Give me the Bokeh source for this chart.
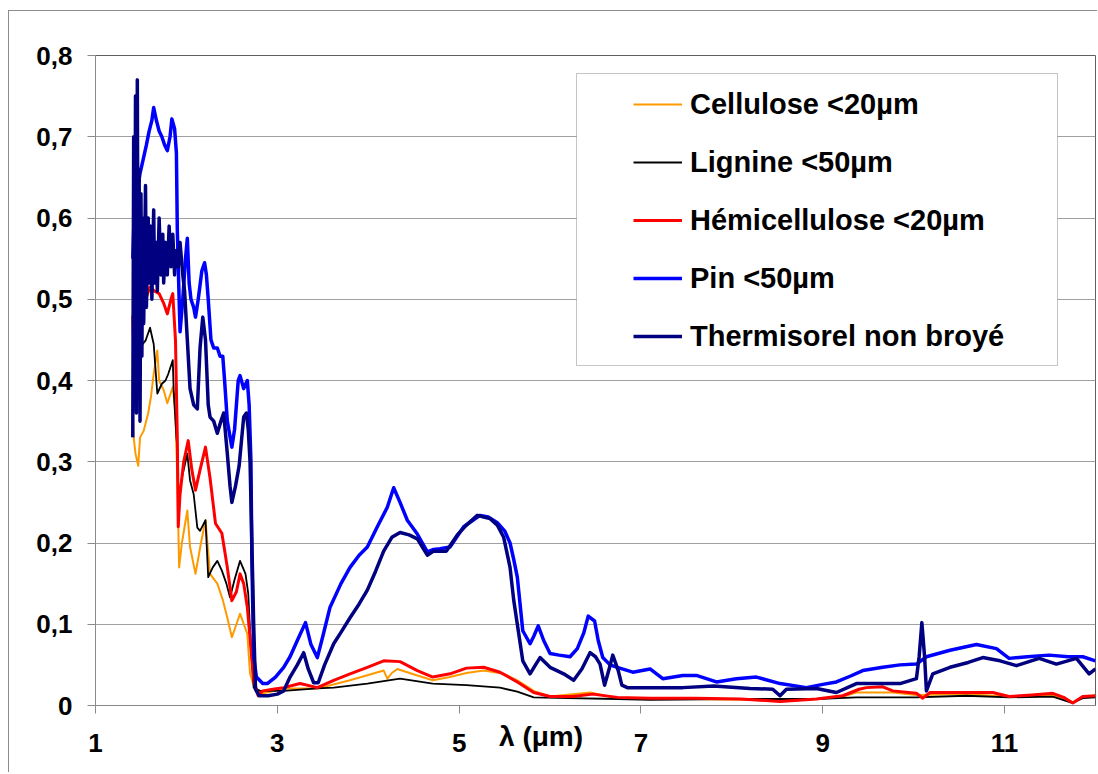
from bokeh.plotting import figure
from bokeh.models import (Legend, LegendItem, BoxAnnotation, FixedTicker,
                          Range1d, CustomJSTickFormatter)
from bokeh.embed import file_html
from bokeh.resources import INLINE

# ---------------- data ----------------
series_names = ["Cellulose <20µm", "Lignine <50µm", "Hémicellulose <20µm",
                "Pin <50µm", "Thermisorel non broyé"]

x_cellulose = [1.41, 1.42, 1.44, 1.47, 1.49, 1.53, 1.58, 1.61, 1.64, 1.68, 1.70, 1.75, 1.79, 1.85,
               1.88, 1.90, 1.92, 1.95, 2.01, 2.04, 2.10, 2.16, 2.21, 2.26, 2.34, 2.40, 2.45, 2.50,
               2.55, 2.59, 2.67, 2.70, 2.76, 2.85, 3.07, 3.44, 3.80, 4.17, 4.21, 4.26, 4.32, 4.54,
               4.71, 4.90, 5.08, 5.27, 5.49, 5.64, 5.82, 6.00, 6.44, 6.74, 7.10, 7.60, 8.10, 8.53,
               8.93, 9.22, 9.37, 9.77, 10.03, 10.58, 11.05, 11.53, 11.75, 11.86, 12.0]
y_cellulose = [0.36, 0.33, 0.31, 0.295, 0.33, 0.338, 0.36, 0.38, 0.408, 0.437, 0.40, 0.388, 0.372,
               0.392, 0.36, 0.277, 0.17, 0.20, 0.24, 0.195, 0.162, 0.20, 0.228, 0.162, 0.15, 0.13,
               0.108, 0.084, 0.10, 0.113, 0.088, 0.039, 0.018, 0.015, 0.021, 0.021, 0.031, 0.043,
               0.033, 0.04, 0.045, 0.037, 0.031, 0.035, 0.04, 0.043, 0.039, 0.031, 0.018, 0.011,
               0.016, 0.009, 0.008, 0.008, 0.007, 0.006, 0.008, 0.011, 0.016, 0.016, 0.013, 0.014,
               0.011, 0.013, 0.004, 0.011, 0.012]

x_lignine = [1.41, 1.43, 1.45, 1.48, 1.49, 1.52, 1.55, 1.60, 1.64, 1.68, 1.73, 1.77, 1.80, 1.85,
             1.86, 1.89, 1.90, 1.91, 1.95, 2.01, 2.04, 2.08, 2.12, 2.15, 2.21, 2.24, 2.29, 2.34,
             2.39, 2.44, 2.48, 2.53, 2.59, 2.65, 2.68, 2.71, 2.74, 2.81, 3.07, 3.44, 3.62, 3.99,
             4.35, 4.71, 5.08, 5.45, 5.64, 5.82, 6.20, 6.74, 7.10, 8.00, 8.93, 9.37, 10.03, 10.58,
             11.05, 11.53, 11.75, 11.86, 12.0]
y_lignine = [0.40, 0.42, 0.41, 0.38, 0.437, 0.445, 0.449, 0.465, 0.445, 0.384, 0.396, 0.40, 0.408,
             0.425, 0.388, 0.33, 0.318, 0.252, 0.28, 0.31, 0.277, 0.26, 0.219, 0.215, 0.228, 0.158,
             0.17, 0.178, 0.166, 0.15, 0.133, 0.155, 0.178, 0.162, 0.138, 0.07, 0.022, 0.018,
             0.018, 0.021, 0.022, 0.027, 0.033, 0.027, 0.025, 0.022, 0.017, 0.01, 0.009, 0.008,
             0.007, 0.008, 0.008, 0.01, 0.01, 0.012, 0.01, 0.011, 0.003, 0.009, 0.01]

x_hemi = [1.41, 1.42, 1.44, 1.47, 1.50, 1.55, 1.60, 1.65, 1.70, 1.75, 1.79, 1.83, 1.85, 1.88, 1.90,
          1.91, 1.93, 1.97, 2.02, 2.06, 2.10, 2.15, 2.21, 2.26, 2.32, 2.39, 2.45, 2.50, 2.55, 2.59,
          2.63, 2.67, 2.71, 2.74, 2.79, 2.84, 2.95, 3.07, 3.25, 3.44, 3.62, 3.80, 3.99, 4.17, 4.35,
          4.54, 4.71, 4.90, 5.08, 5.27, 5.45, 5.64, 5.82, 6.00, 6.25, 6.47, 6.74, 7.10, 7.60, 8.10,
          8.53, 8.93, 9.22, 9.40, 9.48, 9.66, 9.77, 10.03, 10.10, 10.18, 10.58, 10.87, 11.05,
          11.30, 11.53, 11.65, 11.75, 11.86, 12.0]
y_hemi = [0.48, 0.44, 0.46, 0.47, 0.49, 0.50, 0.515, 0.51, 0.507, 0.495, 0.482, 0.50, 0.507, 0.449,
          0.33, 0.22, 0.26, 0.30, 0.326, 0.29, 0.265, 0.29, 0.318, 0.28, 0.224, 0.212, 0.17, 0.129,
          0.14, 0.162, 0.15, 0.121, 0.07, 0.031, 0.012, 0.018, 0.02, 0.022, 0.027, 0.022, 0.031,
          0.039, 0.047, 0.055, 0.054, 0.043, 0.035, 0.039, 0.046, 0.047, 0.041, 0.029, 0.016,
          0.011, 0.011, 0.014, 0.01, 0.009, 0.009, 0.008, 0.005, 0.008, 0.012, 0.02, 0.022, 0.023,
          0.018, 0.015, 0.009, 0.016, 0.016, 0.016, 0.011, 0.013, 0.015, 0.01, 0.003, 0.011, 0.012]

x_pin = [1.41, 1.43, 1.45, 1.47, 1.49, 1.53, 1.56, 1.59, 1.62, 1.64, 1.67, 1.70, 1.73, 1.76, 1.79,
         1.82, 1.84, 1.87, 1.89, 1.90, 1.92, 1.93, 1.96, 1.99, 2.01, 2.03, 2.05, 2.08, 2.10, 2.13,
         2.17, 2.20, 2.22, 2.24, 2.27, 2.30, 2.34, 2.37, 2.40, 2.42, 2.45, 2.50, 2.53, 2.57, 2.59,
         2.63, 2.67, 2.69, 2.71, 2.72, 2.74, 2.77, 2.84, 2.89, 2.98, 3.07, 3.14, 3.22, 3.31, 3.37,
         3.44, 3.50, 3.58, 3.70, 3.80, 3.90, 3.99, 4.10, 4.21, 4.28, 4.35, 4.43, 4.54, 4.65, 4.72,
         4.79, 4.90, 5.05, 5.23, 5.32, 5.42, 5.50, 5.56, 5.60, 5.64, 5.70, 5.78, 5.82, 5.87, 5.93,
         6.00, 6.10, 6.22, 6.30, 6.37, 6.42, 6.49, 6.53, 6.58, 6.66, 6.74, 6.91, 7.10, 7.24, 7.46,
         7.61, 7.83, 8.05, 8.27, 8.53, 8.82, 9.00, 9.15, 9.30, 9.44, 9.66, 9.85, 10.03, 10.14,
         10.40, 10.69, 10.91, 11.05, 11.25, 11.49, 11.70, 11.86, 12.0]
y_pin = [0.55, 0.62, 0.58, 0.64, 0.655, 0.675, 0.69, 0.707, 0.72, 0.736, 0.72, 0.707, 0.70, 0.69,
         0.683, 0.70, 0.722, 0.71, 0.68, 0.585, 0.50, 0.46, 0.50, 0.55, 0.575, 0.52, 0.50, 0.49,
         0.478, 0.50, 0.535, 0.545, 0.53, 0.50, 0.45, 0.44, 0.44, 0.43, 0.43, 0.40, 0.35, 0.318,
         0.34, 0.40, 0.406, 0.39, 0.40, 0.37, 0.30, 0.18, 0.06, 0.035, 0.027, 0.027, 0.035, 0.047,
         0.06, 0.08, 0.102, 0.075, 0.059, 0.085, 0.121, 0.15, 0.17, 0.185, 0.195, 0.22, 0.244,
         0.268, 0.25, 0.228, 0.211, 0.189, 0.192, 0.193, 0.195, 0.22, 0.234, 0.232, 0.225, 0.215,
         0.20, 0.18, 0.158, 0.092, 0.076, 0.085, 0.098, 0.08, 0.064, 0.062, 0.06, 0.07, 0.089,
         0.11, 0.104, 0.08, 0.059, 0.05, 0.047, 0.041, 0.045, 0.033, 0.037, 0.037, 0.029, 0.033,
         0.035, 0.027, 0.022, 0.026, 0.029, 0.036, 0.043, 0.047, 0.05, 0.051, 0.06, 0.068, 0.075,
         0.07, 0.058, 0.06, 0.062, 0.06, 0.06, 0.055]

x_thermi = [1.41, 1.42, 1.43, 1.44, 1.45, 1.46, 1.47, 1.48, 1.49, 1.50, 1.51, 1.52, 1.53, 1.55,
            1.56, 1.58, 1.59, 1.61, 1.62, 1.64, 1.65, 1.67, 1.68, 1.70, 1.72, 1.74, 1.75, 1.77,
            1.79, 1.81, 1.83, 1.85, 1.87, 1.89, 1.91, 1.93, 1.96, 1.98, 2.01, 2.04, 2.08, 2.12,
            2.15, 2.18, 2.21, 2.24, 2.26, 2.30, 2.34, 2.38, 2.41, 2.45, 2.48, 2.50, 2.54, 2.58,
            2.63, 2.66, 2.68, 2.70, 2.72, 2.74, 2.76, 2.80, 2.90, 3.00, 3.07, 3.14, 3.22, 3.29,
            3.34, 3.40, 3.45, 3.52, 3.62, 3.70, 3.80, 3.90, 3.99, 4.08, 4.17, 4.26, 4.35, 4.45,
            4.54, 4.65, 4.72, 4.79, 4.86, 4.92, 4.98, 5.08, 5.20, 5.27, 5.34, 5.42, 5.49, 5.56,
            5.60, 5.64, 5.70, 5.78, 5.84, 5.89, 6.00, 6.15, 6.26, 6.35, 6.44, 6.50, 6.55, 6.60,
            6.65, 6.69, 6.75, 6.79, 6.85, 7.10, 7.46, 7.80, 8.20, 8.45, 8.53, 8.60, 8.93, 9.15,
            9.37, 9.66, 9.85, 10.03, 10.06, 10.09, 10.12, 10.14, 10.21, 10.40, 10.60, 10.76,
            10.95, 11.13, 11.38, 11.57, 11.79, 11.93, 12.0]
y_thermi = [0.33, 0.70, 0.40, 0.75, 0.36, 0.77, 0.42, 0.66, 0.35, 0.63, 0.43, 0.60, 0.47, 0.64,
            0.49, 0.60, 0.52, 0.59, 0.50, 0.61, 0.52, 0.57, 0.51, 0.60, 0.53, 0.58, 0.52, 0.57,
            0.53, 0.59, 0.54, 0.58, 0.53, 0.56, 0.54, 0.57, 0.53, 0.51, 0.45, 0.39, 0.37, 0.365,
            0.44, 0.478, 0.45, 0.37, 0.355, 0.35, 0.335, 0.35, 0.36, 0.31, 0.27, 0.25, 0.27, 0.295,
            0.355, 0.36, 0.34, 0.30, 0.20, 0.10, 0.02, 0.012, 0.012, 0.014, 0.018, 0.035, 0.05,
            0.065, 0.045, 0.028, 0.028, 0.05, 0.076, 0.09, 0.108, 0.125, 0.142, 0.165, 0.19,
            0.207, 0.213, 0.21, 0.205, 0.185, 0.19, 0.19, 0.19, 0.20, 0.21, 0.222, 0.234, 0.232,
            0.23, 0.222, 0.207, 0.17, 0.13, 0.10, 0.055, 0.039, 0.05, 0.059, 0.047, 0.039, 0.031,
            0.045, 0.065, 0.06, 0.051, 0.025, 0.045, 0.062, 0.043, 0.025, 0.022, 0.022, 0.022,
            0.024, 0.021, 0.02, 0.012, 0.02, 0.021, 0.016, 0.027, 0.027, 0.027, 0.033, 0.06, 0.102,
            0.06, 0.018, 0.039, 0.047, 0.053, 0.059, 0.055, 0.049, 0.058, 0.051, 0.058, 0.039, 0.045]

x_tick_values = [1, 3, 5, 7, 9, 11]
y_tick_values = [0, 0.1, 0.2, 0.3, 0.4, 0.5, 0.6, 0.7, 0.8]
x_axis_title = "λ (μm)"

colors = ["#FF9900", "#000000", "#FF0000", "#0000FF", "#000080"]
widths = [2, 1.8, 3, 3.5, 3.5]

FONT = "Liberation Sans"
NBSP = "\u00a0"

p = figure(width=1097, height=772, output_backend="svg", toolbar_location=None,
           x_range=Range1d(1, 12), y_range=Range1d(0, 0.8),
           min_border_left=95, min_border_right=2, min_border_top=55, min_border_bottom=67)
p.background_fill_color = "white"
p.border_fill_alpha = 0
# outer chart border (grey lines at left and top of the chart area)
p.styles = {
    "background": ("linear-gradient(#8c8c8c, #8c8c8c) 8px 10px / 1px 100% no-repeat, "
                   "linear-gradient(#8c8c8c, #8c8c8c) 8px 10px / 100% 1px no-repeat, white")
}
p.outline_line_color = "#606060"
p.outline_line_width = 1

# axes
p.xaxis.ticker = FixedTicker(ticks=x_tick_values)
p.yaxis.ticker = FixedTicker(ticks=y_tick_values)
p.yaxis.formatter = CustomJSTickFormatter(
    code="return tick == 0 ? '0' : tick.toFixed(1).replace('.', ',');")
for ax in (p.xaxis[0], p.yaxis[0]):
    ax.axis_line_color = "#8a8a8a"
    ax.major_tick_line_color = "#8a8a8a"
    ax.major_tick_out = 8
    ax.major_tick_in = 0
    ax.minor_tick_line_color = None
    ax.major_label_text_font = FONT
    ax.major_label_text_font_style = "bold"
    ax.major_label_text_font_size = "26px"
    ax.major_label_text_color = "black"
p.xaxis.major_label_standoff = 20
p.yaxis.major_label_standoff = 15

# x-axis title, sitting in the tick-label row between 5 and 7
p.xaxis.axis_label = x_axis_title + NBSP * 14
p.xaxis.axis_label_text_font = FONT
p.xaxis.axis_label_text_font_style = "bold"
p.xaxis.axis_label_text_font_size = "28px"
p.xaxis.axis_label_text_color = "black"
p.xaxis.axis_label_standoff = -34

p.xgrid.visible = False
p.ygrid.ticker = FixedTicker(ticks=y_tick_values)
p.ygrid.grid_line_color = "#a0a0a0"
p.ygrid.grid_line_width = 1

# series
xs = [x_cellulose, x_lignine, x_hemi, x_pin, x_thermi]
ys = [y_cellulose, y_lignine, y_hemi, y_pin, y_thermi]
renderers = []
for xv, yv, c, w in zip(xs, ys, colors, widths):
    renderers.append(p.line(xv, yv, line_color=c, line_width=w, line_join="round"))

# legend box
legend_box = BoxAnnotation(left=481, right=962, top=632, bottom=340,
                           left_units="screen", right_units="screen",
                           top_units="screen", bottom_units="screen",
                           fill_color="white", fill_alpha=1,
                           line_color="#404040", line_width=1)
p.add_layout(legend_box)

legend = Legend(items=[LegendItem(label=n, renderers=[r]) for n, r in zip(series_names, renderers)],
                location=(538, 349), border_line_color=None, background_fill_alpha=0,
                glyph_width=49, glyph_height=40, label_height=40, spacing=18,
                label_standoff=8, margin=0, padding=0,
                label_text_font=FONT, label_text_font_style="bold",
                label_text_font_size="29px", label_text_color="black")
p.add_layout(legend)

open("out.html", "w").write(file_html(p, INLINE))
